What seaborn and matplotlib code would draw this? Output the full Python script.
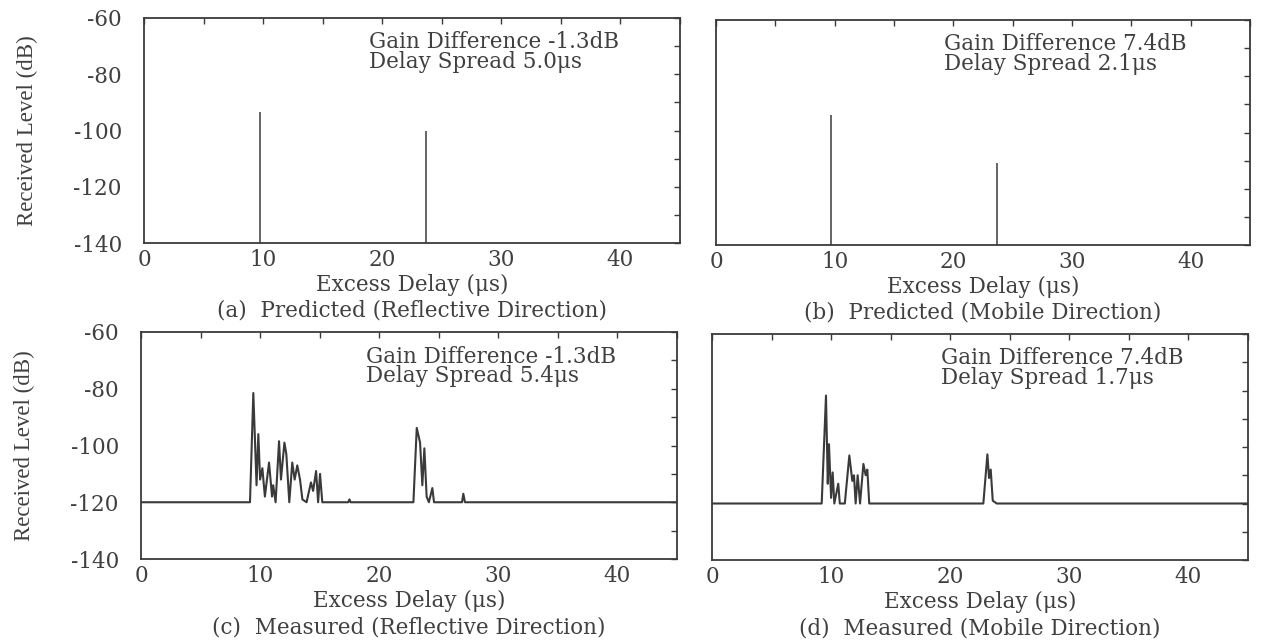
import matplotlib
matplotlib.use("Agg")
import matplotlib.pyplot as plt
import seaborn as sns
from matplotlib.ticker import MultipleLocator

# ---------------- data ----------------
pred_delay = [9.7, 23.7]
pred_a_level = [-93.3, -100.2]
pred_b_level = [-93.9, -111.0]

c_delay = [0, 9.15, 9.43, 9.7, 9.85, 10.0, 10.19, 10.4, 10.75, 11.0, 11.1, 11.3,
           11.59, 11.75, 12.04, 12.2, 12.45, 12.7, 12.9, 13.12, 13.35, 13.55, 13.9,
           14.27, 14.45, 14.7, 14.87, 15.03, 15.22, 17.4, 17.5, 17.6, 22.87, 23.15,
           23.43, 23.62, 23.79, 23.98, 24.17, 24.46, 24.6, 26.95, 27.06, 27.2, 45]
c_level = [-120, -120, -81.5, -114, -96, -112, -108, -118, -106, -118, -114, -120,
           -98.5, -112, -99, -103, -120, -106, -112, -107, -112, -119, -120,
           -113, -116, -109, -120, -110, -120, -120, -119, -120, -120, -93.8,
           -99, -114, -101, -118, -120, -115, -120, -120, -117, -120, -120]

d_delay = [0, 9.21, 9.57, 9.72, 9.82, 10.0, 10.13, 10.27, 10.6, 10.73, 11.15, 11.53,
           11.78, 11.92, 12.06, 12.23, 12.43, 12.71, 12.9, 13.04, 13.2, 22.78, 23.12,
           23.26, 23.4, 23.57, 23.9, 45]
d_level = [-120, -120, -81.8, -113, -99, -118, -109, -120, -113, -120, -120, -103,
           -112, -110, -120, -110, -120, -106, -110, -108, -120, -120, -102.6,
           -111, -108, -119, -120, -120]

annot_a = "Gain Difference -1.3dB\nDelay Spread 5.0\u03bcs"
annot_b = "Gain Difference 7.4dB\nDelay Spread 2.1\u03bcs"
annot_c = "Gain Difference -1.3dB\nDelay Spread 5.4\u03bcs"
annot_d = "Gain Difference 7.4dB\nDelay Spread 1.7\u03bcs"
captions = ["(a)  Predicted (Reflective Direction)",
            "(b)  Predicted (Mobile Direction)",
            "(c)  Measured (Reflective Direction)",
            "(d)  Measured (Mobile Direction)"]
xlabel = "Excess Delay (\u03bcs)"
ylabel = "Received Level (dB)"
y_ticks = [-140, -120, -100, -80, -60]
x_ticks = [0, 10, 20, 30, 40]

# ---------------- style ----------------
sns.set_style("white")
plt.rcParams["font.family"] = ["DejaVu Serif"]
INK = "#3a3a3a"
TXT = "#404040"
FS = 15.5

W, H = 1262, 643
fig = plt.figure(figsize=(W / 100, H / 100), dpi=100)
fig.patch.set_facecolor("white")

def rect(l, r, t, b):
    return [l / W, 1 - b / H, (r - l) / W, (b - t) / H]

ax_a = fig.add_axes(rect(144, 680, 18, 243))
ax_b = fig.add_axes(rect(716, 1250, 20, 245))
ax_c = fig.add_axes(rect(141, 677, 332, 559))
ax_d = fig.add_axes(rect(712, 1248, 334, 560))
axes = [ax_a, ax_b, ax_c, ax_d]

# predicted spikes
ax_a.vlines(pred_delay, -140, pred_a_level, color=INK, lw=1.1)
ax_b.vlines(pred_delay, -140, pred_b_level, color=INK, lw=1.1)
# measured traces
sns.lineplot(x=c_delay, y=c_level, ax=ax_c, color=INK, lw=1.5, sort=False, estimator=None)
sns.lineplot(x=d_delay, y=d_level, ax=ax_d, color=INK, lw=1.5, sort=False, estimator=None)

annots = [annot_a, annot_b, annot_c, annot_d]
for i, ax in enumerate(axes):
    ax.set_xlim(0, 45)
    ax.set_ylim(-140, -60)
    ax.xaxis.set_major_locator(MultipleLocator(10))
    ax.xaxis.set_minor_locator(MultipleLocator(5))
    ax.set_yticks(y_ticks)
    ax.yaxis.set_minor_locator(MultipleLocator(10))
    ax.set_xticks(x_ticks)
    ax.set_xticklabels([str(v) for v in x_ticks])
    ax.tick_params(which="both", direction="in", top=True, right=True,
                   length=4.5, width=1.0, color=INK)
    ax.tick_params(axis="x", which="major", pad=4.5, labelsize=FS, labelcolor=TXT)
    ax.tick_params(axis="y", which="major", pad=16, labelsize=FS, labelcolor=TXT)
    for s in ax.spines.values():
        s.set_color(INK)
        s.set_linewidth(1.3)
    ax.set_facecolor("white")
    if i in (0, 2):
        ax.set_yticklabels([str(v) for v in y_ticks])
        ax.set_ylabel(ylabel, family="Liberation Serif", fontsize=16.5, color=TXT)
        ax.yaxis.set_label_coords(-117 / 536, 0.5)
        ax.yaxis.label.set_va("center")
    else:
        ax.set_yticklabels([])
        ax.set_ylabel("")
    ax.set_xlabel(xlabel, fontsize=FS, color=TXT)
    ax.xaxis.set_label_coords(0.5, -42 / 226)
    ax.xaxis.label.set_va("center")
    ax.text(0.5, -68 / 226, captions[i], transform=ax.transAxes, ha="center",
            va="center", fontsize=FS, color=TXT)
    ax.text(29.4, -72.1, annots[i], ha="center", va="center", multialignment="left",
            fontsize=FS, color=TXT, linespacing=0.86)

fig.savefig("out.png", dpi=100, facecolor="white")
